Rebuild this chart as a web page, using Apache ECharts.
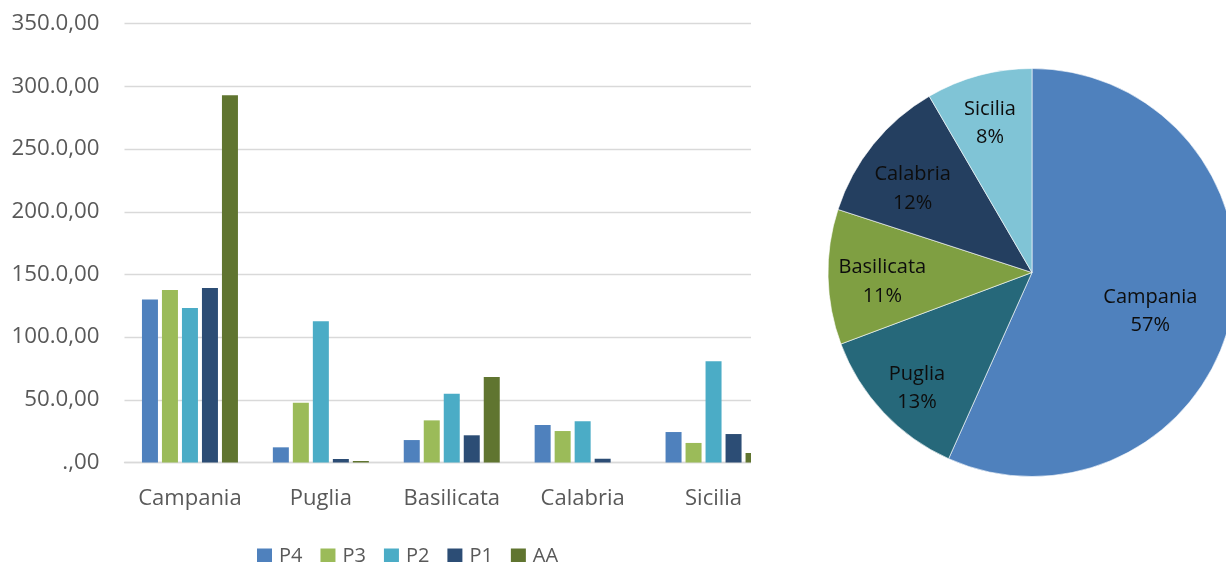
<!DOCTYPE html>
<html>
<head>
<meta charset="utf-8">
<script src="https://cdn.jsdelivr.net/npm/echarts@6/dist/echarts.min.js"></script>
<style>
  html, body { margin: 0; padding: 0; background: #fff; }
  #bar-wrap { position: absolute; left: 0; top: 0; width: 751px; height: 562px; overflow: hidden; }
  #bar { width: 800px; height: 562px; }
  #pie { position: absolute; left: 751px; top: 0; width: 475px; height: 562px; }
</style>
</head>
<body>
<div id="bar-wrap"><div id="bar"></div></div>
<div id="pie"></div>
<script>
// Regions and per-class values
const categories = ['Campania', 'Puglia', 'Basilicata', 'Calabria', 'Sicilia'];
const seriesNames = ['P4', 'P3', 'P2', 'P1', 'AA'];
const p4 = [130.1, 12.1, 17.9, 29.9, 24.3];
const p3 = [137.6, 47.7, 33.6, 25.1, 15.6];
const p2 = [123.2, 112.6, 54.9, 32.9, 80.7];
const p1 = [139.2, 2.8, 21.7, 3.0, 22.7];
const aa = [293.0, 1.2, 68.2, 0, 7.6];
const yTickLabels = ['.,00', '50.0,00', '100.0,00', '150.0,00', '200.0,00', '250.0,00', '300.0,00', '350.0,00'];

// Share of each region (pie)
const pieShares = [56.7, 12.6, 10.7, 11.6, 8.4];

// Styling
const FONT = '"Open Sans", "Noto Sans", sans-serif';
const barColors = ['#4F81BD', '#9BBB59', '#4BACC6', '#2C4D75', '#607530'];
const pieColors = ['#4F81BD', '#26687A', '#7F9F42', '#243F60', '#80C4D6'];
// pie label placement: fraction of radius and angular nudge (degrees) from slice middle
const labelRadiusFactor = [0.61, 0.80, 0.735, 0.715, 0.76];
const labelAngleNudge = [6, -2, -2.3, -3.8, -0.6];

const barChart = echarts.init(document.getElementById('bar'), null, { renderer: 'canvas' });
const seriesValues = [p4, p3, p2, p1, aa];

barChart.setOption({
  animation: false,
  textStyle: { fontFamily: FONT },
  grid: { left: 124.5, top: 23.7, width: 654.5, height: 438.8, containLabel: false },
  legend: {
    left: 252, top: 541,
    itemWidth: 15, itemHeight: 15, itemGap: 18,
    icon: 'rect',
    textStyle: { fontFamily: FONT, fontSize: 20, color: '#595959', padding: [0, 0, 0, 2] },
    data: seriesNames
  },
  xAxis: {
    type: 'category',
    data: categories,
    axisTick: { show: false },
    axisLine: { lineStyle: { color: '#d9d9d9', width: 1.3 } },
    axisLabel: { interval: 0, fontFamily: FONT, fontSize: 22, color: '#595959', margin: 25 }
  },
  yAxis: {
    type: 'value',
    min: 0, max: 350, interval: 50,
    axisLine: { show: false },
    axisTick: { show: false },
    splitLine: { lineStyle: { color: '#d9d9d9', width: 1.3 } },
    axisLabel: {
      fontFamily: FONT, fontSize: 22.3, color: '#595959', margin: 25,
      formatter: v => yTickLabels[Math.round(v / 50)]
    }
  },
  series: seriesNames.map((name, i) => ({
    name: name,
    type: 'bar',
    data: seriesValues[i],
    barWidth: 16,
    barGap: '25%',
    itemStyle: { color: barColors[i] }
  }))
});

const pieChart = echarts.init(document.getElementById('pie'), null, { renderer: 'canvas' });
const PIE_CX = 281, PIE_CY = 272.5, PIE_R = 204;
const shareTotal = pieShares.reduce((a, b) => a + b, 0);

// middle angle of each slice, clockwise from 12 o'clock, in degrees
function sliceMidAngle(idx) {
  let before = 0;
  for (let i = 0; i < idx; i++) before += pieShares[i];
  return 360 * (before + pieShares[idx] / 2) / shareTotal;
}

pieChart.setOption({
  animation: false,
  textStyle: { fontFamily: FONT },
  series: [{
    type: 'pie',
    center: [PIE_CX, PIE_CY],
    radius: [0, PIE_R],
    startAngle: 90,
    clockwise: true,
    avoidLabelOverlap: false,
    data: categories.map((c, i) => ({ name: c, value: pieShares[i], itemStyle: { color: pieColors[i] } })),
    itemStyle: { borderColor: '#ffffff', borderWidth: 0.6 },
    label: {
      position: 'inside',
      fontFamily: FONT, fontSize: 20, color: '#0d0d0d', lineHeight: 28.5,
      formatter: p => p.name + '\n' + Math.round(p.percent) + '%'
    },
    labelLine: { show: false },
    labelLayout: function (params) {
      const i = params.dataIndex;
      const a = (sliceMidAngle(i) + labelAngleNudge[i]) * Math.PI / 180;
      const r = PIE_R * labelRadiusFactor[i];
      return { x: PIE_CX + r * Math.sin(a), y: PIE_CY - r * Math.cos(a), align: 'center', verticalAlign: 'middle' };
    }
  }]
});
</script>
</body>
</html>
